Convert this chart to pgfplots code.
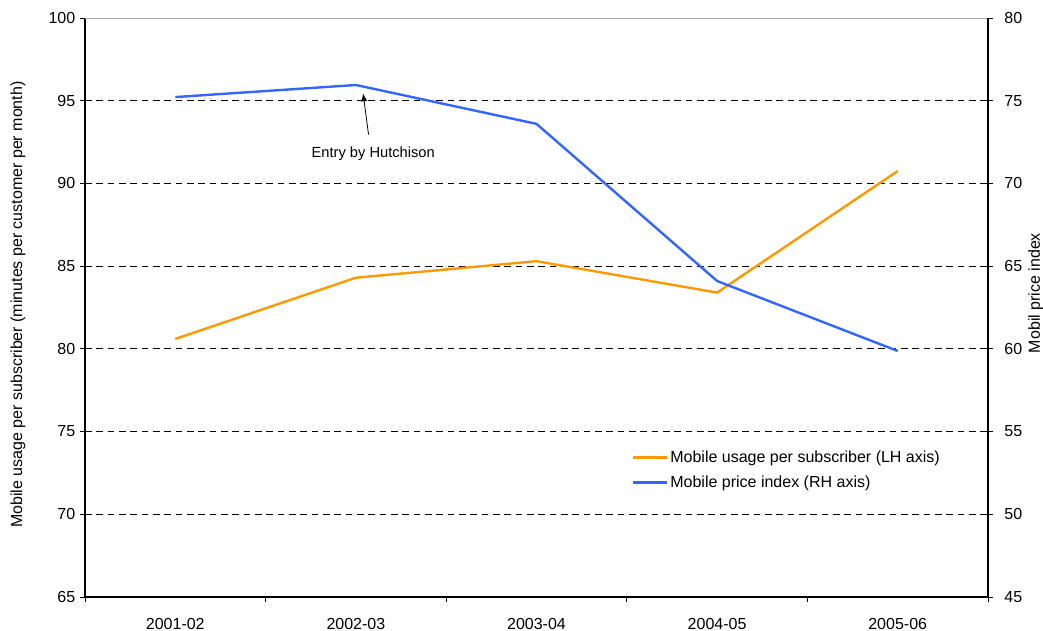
\documentclass[border=0pt]{standalone}
\usepackage{pgfplots}
\pgfplotsset{compat=1.18}
\usepackage{fontspec}
\setmainfont{Liberation Sans}
\usetikzlibrary{arrows.meta}
\definecolor{cOrange}{RGB}{255,153,0}
\definecolor{cBlue}{RGB}{51,102,255}
\begin{document}
\begin{tikzpicture}
\useasboundingbox (-63.75pt,-25.5pt) rectangle (718.5pt,447.75pt);
\pgfplotsset{
  base/.style={
    at={(0,0)}, anchor=south west,
    scale only axis, width=677.25pt, height=434.25pt,
    xmin=-0.5, xmax=4.5,
    font=\fontsize{12}{14}\selectfont,
    /pgf/number format/assume math mode=true,
    tick align=outside,
    major tick length=3.75pt,
    tick style={black, line width=0.6pt},
    axis line style={black, line width=0.8pt, -},
  }
}
\begin{axis}[base,
  ymin=65, ymax=100, ytick={65,70,...,100},
  axis x line*=bottom, axis y line*=left,
  xtick={0,...,4},
  xticklabels={2001-02,2002-03,2003-04,2004-05,2005-06},
  x tick label style={yshift=-8.5pt},
  major x tick style={draw=none},
  minor xtick={-0.5,0.5,...,4.5},
  minor tick length=3.75pt,
  minor x tick style={black, line width=0.6pt},
  ymajorgrids,
  major grid style={black, line width=0.6pt, dash pattern=on 5pt off 3.5pt},
  ylabel={Mobile usage per subscriber (minutes per customer per month)},
  y label style={at={(axis description cs:-0.0742,0.505)}, anchor=center},
]
\addplot[cOrange, line width=1.8pt] coordinates {(0,80.6)(1,84.3)(2,85.3)(3,83.4)(4,90.75)};
\draw[gray!70, line width=0.6pt] (rel axis cs:0,1) -- (rel axis cs:1,1);
\draw[black, line width=0.6pt, -{Latex[length=6pt,width=4.5pt]}] (axis cs:1.07,92.95) -- (axis cs:1.04,95.45);
\node[font=\fontsize{11}{13}\selectfont] at (axis cs:1.096,91.8) {Entry by Hutchison};
\end{axis}
\begin{axis}[base,
  ymin=45, ymax=80, ytick={45,50,...,80},
  axis y line*=right, axis x line=none,
  y tick label style={xshift=5pt},
  ylabel={Mobil price index},
  y label style={at={(axis description cs:1.053,0.525)}, anchor=center},
  legend style={at={(axis description cs:0.601,0.262)}, anchor=north west,
    draw=none, fill=none, font=\fontsize{12}{14}\selectfont, row sep=4.5pt},
  legend cell align=left,
  legend image code/.code={\draw[#1] (0pt,0pt) -- (25pt,0pt);},
]
\addlegendimage{cOrange, line width=1.8pt}
\addlegendentry{Mobile usage per subscriber (LH axis)}
\addplot[cBlue, line width=1.8pt] coordinates {(0,75.22)(1,75.95)(2,73.6)(3,64.1)(4,59.87)};
\addlegendentry{Mobile price index (RH axis)}
\end{axis}
\end{tikzpicture}
\end{document}
